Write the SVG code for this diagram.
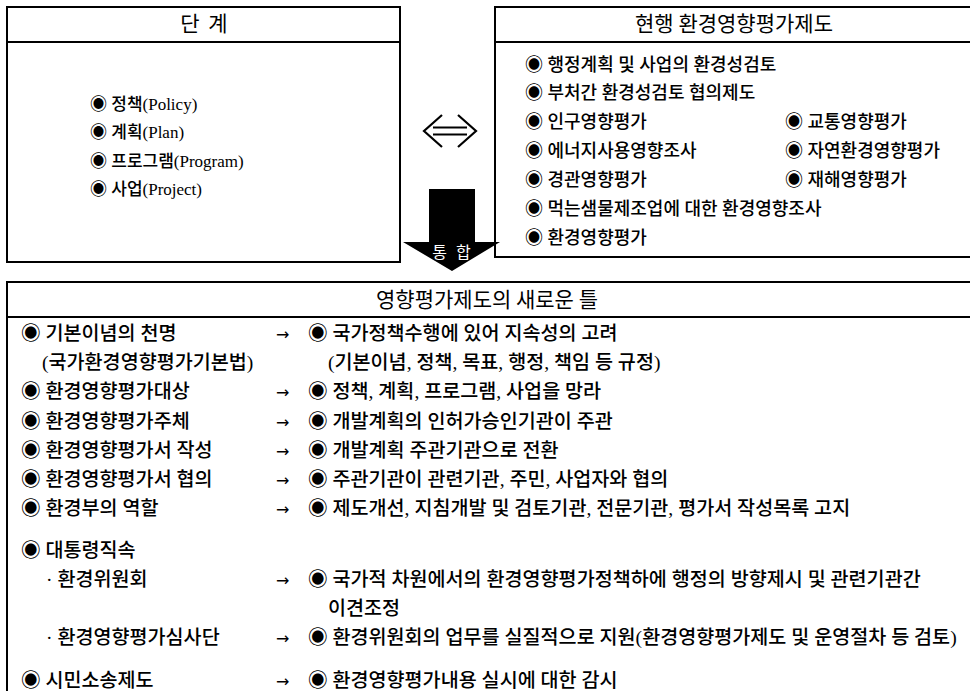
<svg xmlns="http://www.w3.org/2000/svg" width="970" height="691" viewBox="0 0 970 691">
<style>
.box{fill:#fff;stroke:#000;stroke-width:2}
.hd{font-family:"Noto Sans CJK KR","Noto Sans",sans-serif;font-size:21px;fill:#000;text-anchor:middle}
.t{font-family:"Liberation Serif","Noto Sans CJK KR",serif;font-size:19.6px;fill:#000;font-weight:500}
.s{font-size:17px}
.m{font-size:18px}
.ar{font-family:"DejaVu Sans",sans-serif;font-size:16px;fill:#000}
</style>
<rect width="970" height="691" fill="#fff"/>
<g id="node-stages">
<rect class="box" x="7" y="7" width="393" height="255"/>
<line x1="7" y1="42" x2="400" y2="42" stroke="#000" stroke-width="2"/>
<text class="hd" x="205" y="31" font-size="22" letter-spacing="2">단 계</text>
<text class="t s" x="90" y="110">◉ 정책(Policy)</text>
<text class="t s" x="90" y="138">◉ 계획(Plan)</text>
<text class="t s" x="90" y="167">◉ 프로그램(Program)</text>
<text class="t s" x="90" y="195">◉ 사업(Project)</text>
</g>
<g id="node-current">
<rect class="box" x="495" y="7" width="480" height="250"/>
<line x1="495" y1="42" x2="975" y2="42" stroke="#000" stroke-width="2"/>
<text class="hd" x="734" y="31">현행 환경영향평가제도</text>
<text class="t m" x="525" y="71">◉ 행정계획 및 사업의 환경성검토</text>
<text class="t m" x="525" y="99">◉ 부처간 환경성검토 협의제도</text>
<text class="t m" x="525" y="128">◉ 인구영향평가</text>
<text class="t m" x="785" y="128">◉ 교통영향평가</text>
<text class="t m" x="525" y="157">◉ 에너지사용영향조사</text>
<text class="t m" x="785" y="157">◉ 자연환경영향평가</text>
<text class="t m" x="525" y="186">◉ 경관영향평가</text>
<text class="t m" x="785" y="186">◉ 재해영향평가</text>
<text class="t m" x="525" y="215">◉ 먹는샘물제조업에 대한 환경영향조사</text>
<text class="t m" x="525" y="244">◉ 환경영향평가</text>
</g>
<g id="connectors">
<path d="M442,115 L424,131 L442,147 M458,115 L476,131 L458,147 M433,127.5 H467 M433,134.5 H467" fill="none" stroke="#000" stroke-width="2.2"/>
<polygon points="429,189 475,189 475,242 500,242 452,271 403,242 429,242" fill="#000"/>
<text x="456" y="258" font-family="Noto Sans CJK KR,sans-serif" font-size="16" fill="#fff" text-anchor="middle" letter-spacing="9">통합</text>
</g>
<g id="node-new">
<rect class="box" x="7" y="282" width="968" height="420"/>
<line x1="7" y1="317" x2="975" y2="317" stroke="#000" stroke-width="2"/>
<text class="hd" x="487" y="307">영향평가제도의 새로운 틀</text>
<g class="t">
<text x="21" y="340">◉ 기본이념의 천명</text>
<text x="42" y="369">(국가환경영향평가기본법)</text>
<text x="21" y="398">◉ 환경영향평가대상</text>
<text x="21" y="428">◉ 환경영향평가주체</text>
<text x="21" y="457">◉ 환경영향평가서 작성</text>
<text x="21" y="486">◉ 환경영향평가서 협의</text>
<text x="21" y="515">◉ 환경부의 역할</text>
<text x="21" y="557">◉ 대통령직속</text>
<text x="46" y="586">· 환경위원회</text>
<text x="46" y="644">· 환경영향평가심사단</text>
<text x="21" y="687">◉ 시민소송제도</text>
<text x="308" y="340">◉ 국가정책수행에 있어 지속성의 고려</text>
<text x="328" y="369">(기본이념, 정책, 목표, 행정, 책임 등 규정)</text>
<text x="308" y="398">◉ 정책, 계획, 프로그램, 사업을 망라</text>
<text x="308" y="428">◉ 개발계획의 인허가승인기관이 주관</text>
<text x="308" y="457">◉ 개발계획 주관기관으로 전환</text>
<text x="308" y="486">◉ 주관기관이 관련기관, 주민, 사업자와 협의</text>
<text x="308" y="515">◉ 제도개선, 지침개발 및 검토기관,  전문기관, 평가서 작성목록 고지</text>
<text x="308" y="586">◉ 국가적 차원에서의 환경영향평가정책하에 행정의 방향제시 및 관련기관간</text>
<text x="328" y="615">이견조정</text>
<text x="308" y="644">◉ 환경위원회의 업무를 실질적으로 지원(환경영향평가제도 및 운영절차 등 검토)</text>
<text x="308" y="687">◉ 환경영향평가내용 실시에 대한 감시</text>
</g>
<g class="ar">
<text x="276" y="340">→</text>
<text x="276" y="398">→</text>
<text x="276" y="428">→</text>
<text x="276" y="457">→</text>
<text x="276" y="486">→</text>
<text x="276" y="515">→</text>
<text x="276" y="586">→</text>
<text x="276" y="644">→</text>
<text x="276" y="687">→</text>
</g>
</g>
</svg>
